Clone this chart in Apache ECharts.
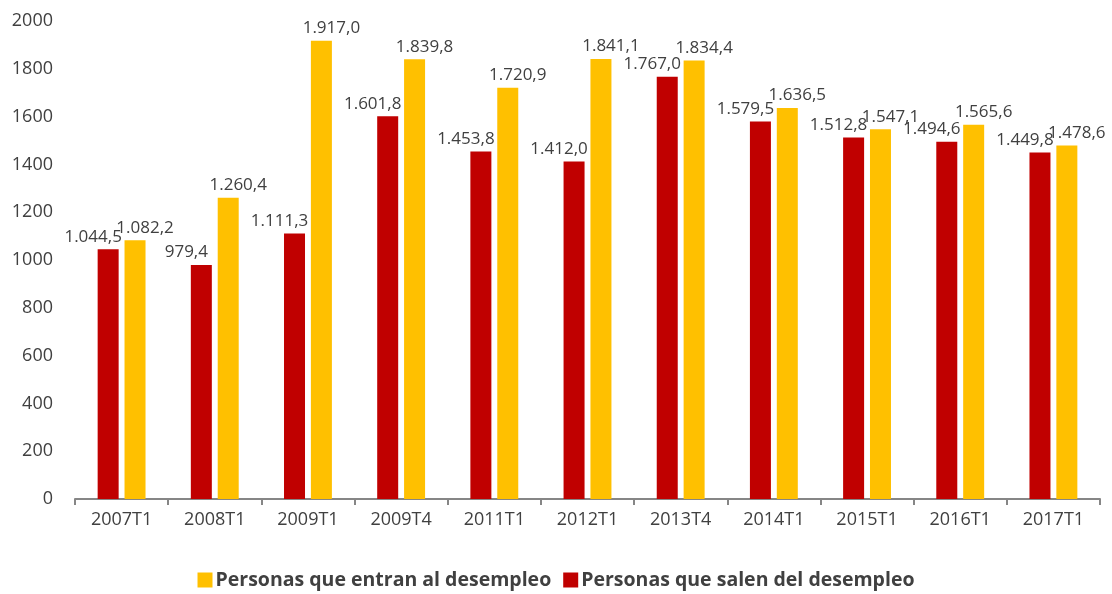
<!DOCTYPE html>
<html>
<head>
<meta charset="utf-8">
<script src="https://cdn.jsdelivr.net/npm/echarts@6/dist/echarts.min.js"></script>
<style>html,body{margin:0;padding:0;background:#fff}#c{width:1112px;height:594px}</style>
</head>
<body>
<div id="c"></div>
<script>
const categories = ['2007T1','2008T1','2009T1','2009T4','2011T1','2012T1','2013T4','2014T1','2015T1','2016T1','2017T1'];
const salen = [1044.5, 979.4, 1111.3, 1601.8, 1453.8, 1412.0, 1767.0, 1579.5, 1512.8, 1494.6, 1449.8];
const entran = [1082.2, 1260.4, 1917.0, 1839.8, 1720.9, 1841.1, 1834.4, 1636.5, 1547.1, 1565.6, 1478.6];
const yTicks = [0, 200, 400, 600, 800, 1000, 1200, 1400, 1600, 1800, 2000];
const nameEntran = 'Personas que entran al desempleo';
const nameSalen = 'Personas que salen del desempleo';

function fmt(v) {
  const parts = v.toFixed(1).split('.');
  const int = parts[0].replace(/\B(?=(\d{3})+(?!\d))/g, '.');
  return int + ',' + parts[1];
}
const FONT = '"Open Sans", "Noto Sans", sans-serif';
const chart = echarts.init(document.getElementById('c'), null, {renderer: 'canvas'});
chart.setOption({
  animation: false,
  backgroundColor: '#ffffff',
  grid: {left: 75, right: 12, top: 21, bottom: 95, containLabel: false},
  legend: {
    data: [nameEntran, nameSalen],
    bottom: -1,
    left: 'center',
    itemWidth: 15,
    itemHeight: 15,
    itemGap: 12,
    icon: 'rect',
    textStyle: {fontFamily: FONT, fontSize: 19.5, fontWeight: 'bold', color: '#404040', padding: [0, 0, 0, -2]}
  },
  xAxis: {
    type: 'category',
    data: categories,
    boundaryGap: true,
    axisLine: {lineStyle: {color: '#868686', width: 2}},
    axisTick: {show: true, length: 6, lineStyle: {color: '#868686', width: 2}, alignWithLabel: false},
    axisLabel: {fontFamily: FONT, fontSize: 18, color: '#404040', margin: 12}
  },
  yAxis: {
    type: 'value',
    min: yTicks[0],
    max: yTicks[yTicks.length - 1],
    interval: 200,
    splitLine: {show: false},
    axisLine: {show: false},
    axisTick: {show: false},
    axisLabel: {fontFamily: FONT, fontSize: 18, color: '#404040', margin: 22, formatter: v => String(v)}
  },
  series: [
    {
      name: nameSalen,
      type: 'bar',
      data: salen,
      barWidth: 21,
      barGap: '28%',
      itemStyle: {color: '#C00000'},
      label: {show: true, position: 'top', distance: 4, offset: [-15, 0], formatter: p => fmt(p.value), fontFamily: FONT, fontSize: 17, color: '#404040'}
    },
    {
      name: nameEntran,
      type: 'bar',
      data: entran,
      barWidth: 21,
      barGap: '28%',
      itemStyle: {color: '#FFC000'},
      label: {show: true, position: 'top', distance: 4, offset: [10, 0], formatter: p => fmt(p.value), fontFamily: FONT, fontSize: 17, color: '#404040'}
    }
  ]
});
</script>
</body>
</html>
